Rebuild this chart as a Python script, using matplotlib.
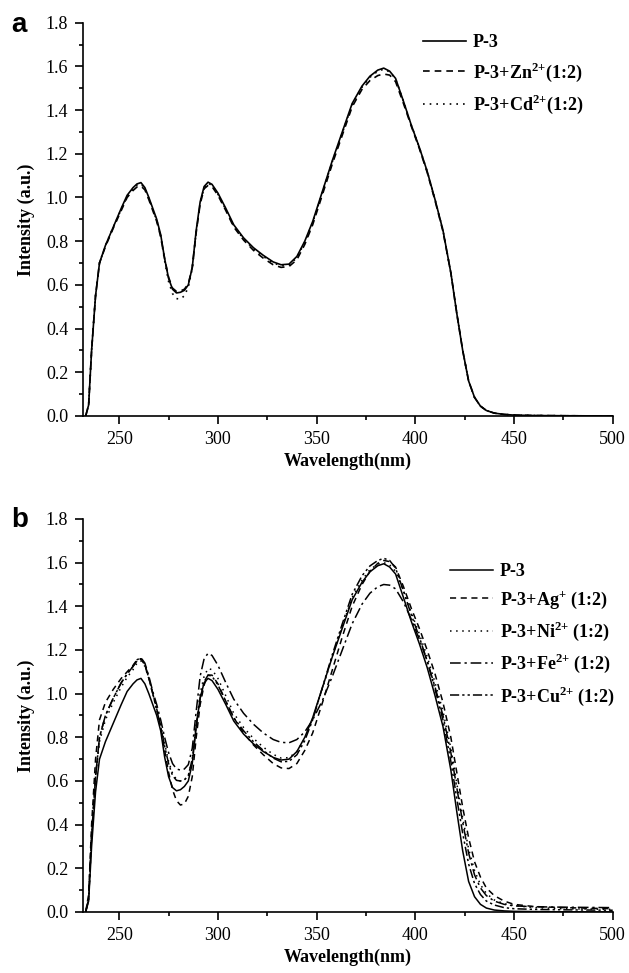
import numpy as np
import matplotlib
matplotlib.use("Agg")
import matplotlib.pyplot as plt
from matplotlib.ticker import MultipleLocator, FormatStrFormatter

plt.rcParams['font.family'] = ['Liberation Serif', 'DejaVu Serif']
plt.rcParams['mathtext.fontset'] = 'custom'
plt.rcParams['mathtext.rm'] = 'Liberation Serif:bold'
plt.rcParams['mathtext.bf'] = 'Liberation Serif:bold'

# wavelength grid (nm)
wl = [233, 234.5, 236, 238, 240, 243, 247, 251, 254, 257,
      259, 261, 263, 265, 267, 269, 271, 273, 275, 277,
      279, 281, 283, 285, 287, 289, 291, 293, 295, 297,
      300, 304, 308, 313, 318, 323, 328, 332, 336, 340,
      344, 348, 353, 358, 363, 368, 373, 377, 381, 384,
      387, 390, 394, 398, 402, 406, 410, 414, 418, 421,
      424, 427, 430, 433, 436, 440, 445, 450, 460, 475, 500]

# panel a
a_p3 = [0, .05, .30, .55, .70, .78, .865, .95, 1.01, 1.045,
        1.062, 1.068, 1.045, 1.0, .95, .90, .83, .72, .63, .58,
        .563, .566, .575, .60, .68, .85, .98, 1.05, 1.07, 1.06,
        1.02, .95, .875, .815, .77, .735, .705, .692, .695, .73,
        .80, .89, 1.03, 1.17, 1.30, 1.43, 1.51, 1.555, 1.583, 1.592,
        1.578, 1.545, 1.44, 1.33, 1.23, 1.12, .99, .85, .655, .47,
        .30, .16, .085, .045, .025, .013, .007, .004, .002, .001, 0]
a_zn = [0, .05, .30, .55, .70, .775, .86, .94, 1.0, 1.032,
        1.048, 1.052, 1.035, .99, .94, .89, .82, .72, .635, .585,
        .57, .572, .58, .605, .68, .84, .97, 1.04, 1.055, 1.05,
        1.01, .94, .865, .805, .758, .722, .692, .68, .684, .715,
        .785, .875, 1.015, 1.155, 1.285, 1.415, 1.495, 1.535, 1.558, 1.565,
        1.56, 1.53, 1.43, 1.325, 1.225, 1.115, .985, .845, .655, .47,
        .30, .16, .085, .045, .025, .013, .007, .004, .002, .001, 0]
a_cd = [0, .05, .30, .55, .70, .78, .865, .945, 1.005, 1.04,
        1.057, 1.062, 1.04, .995, .945, .895, .825, .71, .615, .56,
        .537, .535, .55, .59, .675, .845, .975, 1.045, 1.065, 1.056,
        1.015, .945, .87, .81, .765, .73, .70, .688, .69, .725,
        .795, .885, 1.025, 1.165, 1.295, 1.425, 1.505, 1.55, 1.578, 1.587,
        1.575, 1.543, 1.44, 1.33, 1.23, 1.12, .99, .85, .655, .47,
        .30, .16, .085, .045, .025, .013, .007, .004, .002, .001, 0]

# panel b
b_p3 = [0, .05, .30, .55, .70, .78, .865, .95, 1.01, 1.045,
        1.063, 1.07, 1.045, 1.0, .95, .90, .83, .71, .62, .57,
        .555, .56, .575, .60, .68, .85, .98, 1.05, 1.07, 1.06,
        1.02, .95, .875, .815, .77, .735, .708, .696, .70, .735,
        .80, .89, 1.03, 1.17, 1.30, 1.43, 1.51, 1.558, 1.586, 1.595,
        1.58, 1.548, 1.44, 1.33, 1.23, 1.12, .99, .85, .65, .46,
        .28, .14, .07, .035, .018, .009, .005, .003, .002, .001, 0]
b_ag = [0, .08, .40, .70, .88, .96, 1.02, 1.07, 1.10, 1.13,
        1.155, 1.16, 1.13, 1.07, 1.0, .93, .85, .74, .64, .56,
        .51, .49, .495, .53, .62, .80, .95, 1.04, 1.085, 1.085,
        1.045, .965, .89, .82, .765, .72, .68, .66, .657, .68,
        .74, .82, .96, 1.11, 1.26, 1.40, 1.50, 1.56, 1.597, 1.61,
        1.605, 1.58, 1.49, 1.39, 1.30, 1.20, 1.09, .96, .80, .64,
        .48, .34, .23, .16, .11, .075, .05, .035, .025, .02, .015]
b_ni = [0, .06, .35, .62, .78, .88, .96, 1.03, 1.075, 1.11,
        1.14, 1.15, 1.125, 1.07, 1.0, .93, .86, .77, .69, .635,
        .607, .60, .605, .625, .70, .86, 1.0, 1.08, 1.115, 1.11,
        1.07, .99, .91, .845, .795, .755, .722, .705, .707, .735,
        .795, .885, 1.025, 1.17, 1.31, 1.44, 1.52, 1.568, 1.593, 1.60,
        1.59, 1.56, 1.47, 1.37, 1.275, 1.17, 1.05, .92, .75, .59,
        .43, .29, .19, .125, .085, .055, .038, .03, .02, .015, .012]
b_fe = [0, .06, .35, .62, .80, .90, .98, 1.05, 1.09, 1.125,
        1.155, 1.165, 1.14, 1.08, 1.01, .95, .88, .80, .73, .68,
        .655, .65, .655, .675, .75, .92, 1.08, 1.16, 1.185, 1.175,
        1.13, 1.05, .975, .91, .86, .82, .79, .777, .775, .79,
        .825, .88, .97, 1.08, 1.20, 1.32, 1.41, 1.46, 1.49, 1.50,
        1.497, 1.48, 1.42, 1.34, 1.25, 1.15, 1.03, .90, .73, .57,
        .41, .27, .17, .11, .075, .05, .035, .028, .024, .022, .02]
b_cu = [0, .06, .35, .62, .80, .90, .98, 1.05, 1.09, 1.125,
        1.15, 1.16, 1.135, 1.07, 1.0, .925, .85, .76, .68, .625,
        .603, .60, .605, .625, .70, .85, .98, 1.055, 1.085, 1.08,
        1.04, .965, .89, .83, .78, .74, .705, .688, .69, .72,
        .785, .88, 1.03, 1.18, 1.32, 1.455, 1.54, 1.585, 1.61, 1.62,
        1.61, 1.575, 1.47, 1.36, 1.26, 1.15, 1.02, .88, .69, .52,
        .36, .22, .13, .08, .05, .032, .02, .015, .012, .01, .008]

labels_a = ['P-3', r'P-3+Zn$^{\mathbf{2{+}}}$(1:2)', r'P-3+Cd$^{\mathbf{2{+}}}$(1:2)']
labels_b = ['P-3', r'P-3+Ag$^{\mathbf{{+}}}$ (1:2)', r'P-3+Ni$^{\mathbf{2{+}}}$ (1:2)',
            r'P-3+Fe$^{\mathbf{2{+}}}$ (1:2)', r'P-3+Cu$^{\mathbf{2{+}}}$ (1:2)']

styles = ['-', (0, (4, 3)), (0, (1, 3)), (0, (7, 2.5, 1.5, 2.5)), (0, (6, 2, 1.5, 2, 1.5, 2))]

fig = plt.figure(figsize=(6.29, 9.73), dpi=100)
ax_a = fig.add_axes([0.1315, 0.5725, 0.8426, 0.4042])
ax_b = fig.add_axes([0.1315, 0.0627, 0.8426, 0.4039])


def style_axes(ax):
    ax.set_xlim(231.5, 500)
    ax.set_ylim(0, 1.8)
    ax.xaxis.set_major_locator(MultipleLocator(50))
    ax.xaxis.set_minor_locator(MultipleLocator(25))
    ax.yaxis.set_major_locator(MultipleLocator(0.2))
    ax.yaxis.set_minor_locator(MultipleLocator(0.1))
    ax.yaxis.set_major_formatter(FormatStrFormatter('%.1f'))
    for s in ['top', 'right']:
        ax.spines[s].set_visible(False)
    for s in ['left', 'bottom']:
        ax.spines[s].set_linewidth(1.2)
    ax.tick_params(which='major', length=5.5, width=1.2, labelsize=13, pad=5)
    ax.tick_params(which='minor', length=3, width=1.2)
    ax.set_xlabel('Wavelength(nm)', fontsize=13, fontweight='bold', labelpad=4)
    ax.set_ylabel('Intensity (a.u.)', fontsize=13, fontweight='bold', labelpad=8)


for ys, lab, ls in zip([a_p3, a_zn, a_cd], labels_a, styles):
    ax_a.plot(wl, ys, color='black', lw=1.2, linestyle=ls, label=lab)
for ys, lab, ls in zip([b_p3, b_ag, b_ni, b_fe, b_cu], labels_b, styles):
    ax_b.plot(wl, ys, color='black', lw=1.1, linestyle=ls, label=lab)

leg_font = {'family': 'Liberation Serif', 'weight': 'bold', 'size': 13}
for ax, anchor in ((ax_a, (0.642, 0.97)), (ax_b, (0.693, 0.888))):
    style_axes(ax)
    ax.legend(loc='upper left', bbox_to_anchor=anchor, frameon=False, prop=leg_font,
              borderpad=0, borderaxespad=0,
              handlelength=2.4, handletextpad=0.35, labelspacing=0.5)

fig.text(0.018, 0.967, 'a', fontsize=20, fontweight='bold', family='Liberation Sans')
fig.text(0.018, 0.458, 'b', fontsize=20, fontweight='bold', family='Liberation Sans')

fig.savefig('out.png', dpi=100)
